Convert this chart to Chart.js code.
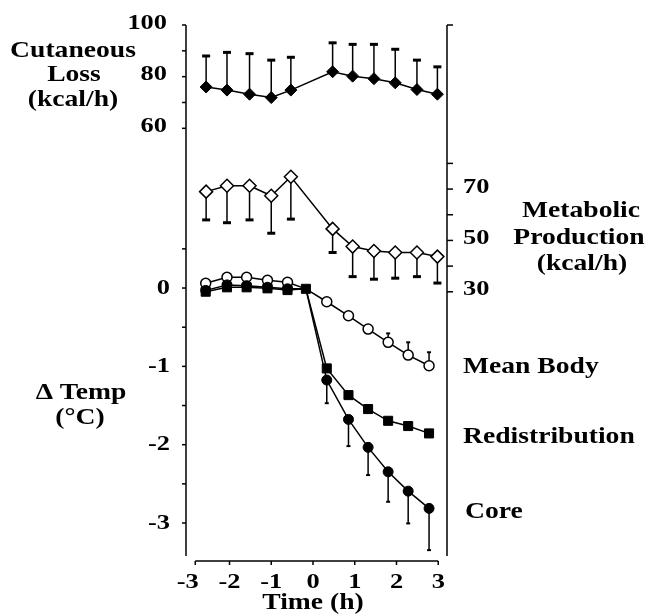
<!DOCTYPE html>
<html>
<head>
<meta charset="utf-8">
<script src="https://cdn.jsdelivr.net/npm/chart.js@4.4.0/dist/chart.umd.min.js"></script>
<style>
  body { margin: 0; background: #fff; }
</style>
</head>
<body>
<canvas id="myChart" width="648" height="616"></canvas>
<script>
// times (h) of the heat balance measurements and the temperature measurements
var timesHeat = [-2.56, -2.06, -1.52, -1.0, -0.53, 0.47, 0.95, 1.46, 1.97, 2.49, 2.98];
var timesTemp = [-2.57, -2.06, -1.59, -1.09, -0.61, -0.17, 0.33, 0.85, 1.32, 1.80, 2.28, 2.78];

// kcal/h
var cutaneousLoss = [76.0, 74.8, 73.2, 71.9, 74.8, 81.9, 80.2, 79.2, 77.6, 75.0, 73.2];
var cutaneousSD = [12.0, 14.6, 15.7, 14.5, 12.7, 11.2, 12.3, 13.3, 13.0, 11.4, 10.6];
var metabolicProd = [69.0, 71.3, 71.3, 67.4, 74.8, 54.5, 47.6, 45.9, 45.3, 45.3, 43.7];
var metabolicSD = [11.0, 14.4, 13.3, 14.6, 16.5, 9.2, 11.7, 11.0, 10.0, 9.4, 10.3];

// delta temp (C)
var meanBody = [0.06, 0.137, 0.137, 0.10, 0.073, -0.01, -0.175, -0.354, -0.524, -0.693, -0.856, -0.992];
var meanBodySD = [null, null, null, null, null, null, null, null, null, 0.114, 0.163, 0.172];
var redistribution = [-0.047, 0.009, 0.009, -0.004, -0.026, -0.01, -1.026, -1.367, -1.545, -1.695, -1.762, -1.856];
var core = [-0.03, 0.04, 0.03, 0.01, -0.01, -0.01, -1.175, -1.677, -2.034, -2.346, -2.593, -2.813];
var coreSD = [null, null, null, null, null, null, 0.295, 0.341, 0.354, 0.383, 0.412, 0.533];

// tick labels
var xTicks = [-3, -2, -1, 0, 1, 2, 3];
var cutTicks = [100, 80, 60];
var metTicks = [70, 50, 30];
var tempTicks = [0, -1, -2, -3];

function pts(xs, ys) {
  var out = [];
  for (var i = 0; i < xs.length; i++) {
    out.push({x: xs[i], y: ys[i]});
  }
  return out;
}

function txt(ctx, s, x, y, align, size) {
  ctx.save();
  ctx.font = 'bold ' + size + 'px "Liberation Serif"';
  ctx.fillStyle = '#000';
  ctx.textBaseline = 'middle';
  ctx.textAlign = align;
  ctx.translate(x, y);
  ctx.scale(1.2, 1);
  ctx.fillText(s, 0, 0);
  ctx.restore();
}

function hline(ctx, x1, x2, y) {
  ctx.beginPath();
  ctx.moveTo(x1, y);
  ctx.lineTo(x2, y);
  ctx.stroke();
}
function vline(ctx, x, y1, y2) {
  ctx.beginPath();
  ctx.moveTo(x, y1);
  ctx.lineTo(x, y2);
  ctx.stroke();
}

var errorBars = {
  id: 'errorBars',
  beforeDatasetsDraw: function (chart) {
    var ctx = chart.ctx;
    ctx.save();
    ctx.strokeStyle = '#000';
    chart.data.datasets.forEach(function (ds, di) {
      if (!ds.errors) return;
      var xs = chart.scales.x;
      var ys = chart.scales[ds.yAxisID];
      for (var i = 0; i < ds.data.length; i++) {
        var e = ds.errors[i];
        if (e == null) continue;
        var px = xs.getPixelForValue(ds.data[i].x);
        var y0 = ys.getPixelForValue(ds.data[i].y);
        var y1 = ys.getPixelForValue(ds.data[i].y + ds.errorDir * e);
        ctx.lineWidth = 1.5;
        vline(ctx, px, y0, y1);
        ctx.lineWidth = ds.capH;
        hline(ctx, px - ds.capW / 2, px + ds.capW / 2, y1);
      }
    });
    ctx.restore();
  }
};

var axesAndText = {
  id: 'axesAndText',
  afterDraw: function (chart) {
    var ctx = chart.ctx;
    var a = chart.chartArea;
    var sx = chart.scales.x, sc = chart.scales.yCut, sm = chart.scales.yMet, st = chart.scales.yTemp;
    ctx.save();
    ctx.strokeStyle = '#000';
    ctx.lineWidth = 1.5;
    // left axis
    vline(ctx, a.left, a.top, a.bottom);
    for (var v = 60; v <= 100; v += 10) {
      hline(ctx, a.left - 4, a.left, sc.getPixelForValue(v));
    }
    for (var t = 0.5; t >= -3; t -= 0.5) {
      hline(ctx, a.left - 4, a.left, st.getPixelForValue(t));
    }
    // right axis
    vline(ctx, a.right, a.top, a.bottom);
    hline(ctx, a.right, a.right + 6, a.top);
    for (var m = 30; m <= 80; m += 10) {
      hline(ctx, a.right, a.right + 6, sm.getPixelForValue(m));
    }
    // bottom axis
    var yb = a.bottom + 5;
    var xStart = sx.getPixelForValue(-2.82);
    var xEnd = sx.getPixelForValue(3);
    hline(ctx, xStart, xEnd, yb);
    vline(ctx, xStart, yb, yb + 4);
    xTicks.forEach(function (k) {
      if (k > -3) vline(ctx, sx.getPixelForValue(k), yb, yb + 4);
    });

    // tick labels
    xTicks.forEach(function (k) {
      txt(ctx, String(k), sx.getPixelForValue(k), 582, 'center', 22);
    });
    cutTicks.forEach(function (k) {
      txt(ctx, String(k), 167, sc.getPixelForValue(k) - 2, 'right', 22);
    });
    tempTicks.forEach(function (k) {
      txt(ctx, String(k), 170, st.getPixelForValue(k), 'right', 22);
    });
    metTicks.forEach(function (k) {
      txt(ctx, String(k), 463, sm.getPixelForValue(k) - 2, 'left', 22);
    });

    // axis titles
    txt(ctx, 'Cutaneous', 73, 51, 'center', 23);
    txt(ctx, 'Loss', 74, 75, 'center', 23);
    txt(ctx, '(kcal/h)', 73, 100, 'center', 23);
    txt(ctx, 'Metabolic', 581, 211, 'center', 23);
    txt(ctx, 'Production', 579, 238, 'center', 23);
    txt(ctx, '(kcal/h)', 582, 264, 'center', 23);
    txt(ctx, '\u0394 Temp', 81, 393, 'center', 23);
    txt(ctx, '(\u00B0C)', 80, 418, 'center', 23);
    txt(ctx, 'Time (h)', 313, 603, 'center', 23);

    // series names
    txt(ctx, 'Mean Body', 463, 367, 'left', 23);
    txt(ctx, 'Redistribution', 463, 437, 'left', 23);
    txt(ctx, 'Core', 465, 512, 'left', 23);
    ctx.restore();
  }
};

function hideJunction(c) {
  return c.dataIndex === 5 ? 0 : 5;
}

var ctx = document.getElementById('myChart').getContext('2d');
var chart = new Chart(ctx, {
  type: 'line',
  data: {
    datasets: [{
      label: 'Core',
      data: pts(timesTemp, core),
      yAxisID: 'yTemp',
      errors: coreSD, errorDir: -1, capW: 4, capH: 2,
      borderColor: '#000', borderWidth: 1.5,
      pointStyle: 'circle', pointRadius: hideJunction,
      pointBackgroundColor: '#000', pointBorderColor: '#000', pointBorderWidth: 1
    }, {
      label: 'Mean Body',
      data: pts(timesTemp, meanBody),
      yAxisID: 'yTemp',
      errors: meanBodySD, errorDir: 1, capW: 4, capH: 2,
      borderColor: '#000', borderWidth: 1.5,
      pointStyle: 'circle', pointRadius: hideJunction,
      pointBackgroundColor: '#fff', pointBorderColor: '#000', pointBorderWidth: 1.5
    }, {
      label: 'Redistribution',
      data: pts(timesTemp, redistribution),
      yAxisID: 'yTemp',
      borderColor: '#000', borderWidth: 1.5,
      pointStyle: 'rect', pointRadius: 6.4,
      pointBackgroundColor: '#000', pointBorderColor: '#000', pointBorderWidth: 1
    }, {
      label: 'Cutaneous Loss',
      data: pts(timesHeat, cutaneousLoss),
      yAxisID: 'yCut',
      errors: cutaneousSD, errorDir: 1, capW: 8, capH: 3,
      borderColor: '#000', borderWidth: 1.5,
      pointStyle: 'rectRot', pointRadius: 6,
      pointBackgroundColor: '#000', pointBorderColor: '#000', pointBorderWidth: 1
    }, {
      label: 'Metabolic Production',
      data: pts(timesHeat, metabolicProd),
      yAxisID: 'yMet',
      errors: metabolicSD, errorDir: -1, capW: 8, capH: 3,
      borderColor: '#000', borderWidth: 1.5,
      pointStyle: 'rectRot', pointRadius: 6.5,
      pointBackgroundColor: '#fff', pointBorderColor: '#000', pointBorderWidth: 1.5
    }]
  },
  options: {
    responsive: false,
    animation: false,
    events: [],
    layout: {
      padding: {left: 186, right: 201, top: 25, bottom: 60}
    },
    plugins: {
      legend: {display: false},
      tooltip: {enabled: false}
    },
    scales: {
      x: {type: 'linear', display: false, min: -3.042, max: 3.210},
      yCut: {type: 'linear', display: false, min: -105.6, max: 100},
      yMet: {type: 'linear', display: false, min: -72.9, max: 133.9},
      yTemp: {type: 'linear', display: false, min: -3.421, max: 3.358}
    }
  },
  plugins: [errorBars, axesAndText]
});
</script>
</body>
</html>
